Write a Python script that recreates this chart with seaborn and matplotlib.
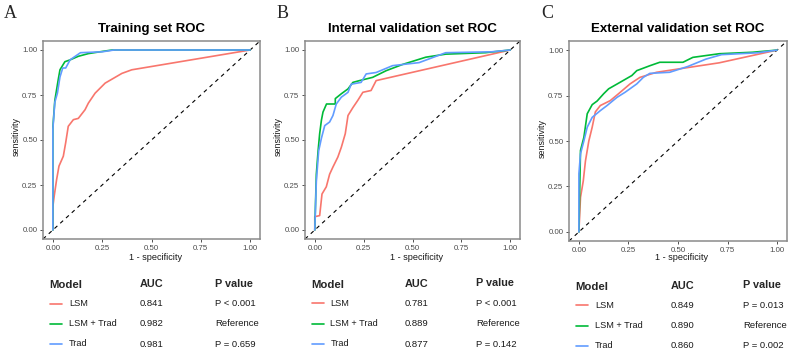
import numpy as np
import pandas as pd
import matplotlib
matplotlib.use("Agg")
import matplotlib.pyplot as plt
from matplotlib.lines import Line2D
from matplotlib.ticker import FormatStrFormatter
import seaborn as sns

sns.set_theme(style="white")
plt.rcParams['font.family'] = ['Liberation Sans', 'DejaVu Sans']

models = ["LSM", "LSM + Trad", "Trad"]
colors = ["#F8766D", "#00BA38", "#619CFF"]
titles = ["Training set ROC", "Internal validation set ROC", "External validation set ROC"]
letters = ["A", "B", "C"]

# training set curves (1 - specificity, sensitivity)
train_lsm_fpr = [0, 0, 0.007, 0.019, 0.031, 0.053, 0.065, 0.078, 0.104, 0.129, 0.163, 0.18, 0.214, 0.265, 0.35, 0.40, 1.0]
train_lsm_tpr = [0, 0.13, 0.19, 0.28, 0.355, 0.41, 0.485, 0.576, 0.613, 0.62, 0.668, 0.705, 0.76, 0.816, 0.87, 0.89, 1.0]
train_comb_fpr = [0, 0, 0.01, 0.027, 0.036, 0.061, 0.087, 0.129, 0.18, 0.25, 0.30, 1.0]
train_comb_tpr = [0, 0.57, 0.72, 0.834, 0.89, 0.935, 0.945, 0.965, 0.98, 0.992, 1.0, 1.0]
train_trad_fpr = [0, 0, 0.01, 0.023, 0.036, 0.05, 0.065, 0.075, 0.087, 0.12, 0.14, 0.25, 0.31, 1.0]
train_trad_tpr = [0, 0.56, 0.71, 0.76, 0.85, 0.90, 0.90, 0.92, 0.945, 0.97, 0.985, 0.99, 1.0, 1.0]

# internal validation set
int_lsm_fpr = [0, 0, 0.025, 0.037, 0.059, 0.076, 0.093, 0.118, 0.136, 0.156, 0.17, 0.195, 0.22, 0.246, 0.288, 0.314, 1.0]
int_lsm_tpr = [0, 0.074, 0.08, 0.2, 0.24, 0.31, 0.35, 0.405, 0.46, 0.535, 0.636, 0.68, 0.72, 0.765, 0.775, 0.83, 1.0]
int_comb_fpr = [0, 0.008, 0.017, 0.025, 0.034, 0.042, 0.06, 0.105, 0.105, 0.136, 0.17, 0.195, 0.229, 0.296, 0.365, 0.45, 0.568, 0.67, 0.873, 1.0]
int_comb_tpr = [0, 0.31, 0.44, 0.535, 0.61, 0.655, 0.70, 0.70, 0.73, 0.757, 0.784, 0.82, 0.83, 0.848, 0.885, 0.92, 0.96, 0.977, 0.985, 1.0]
int_trad_fpr = [0, 0.008, 0.02, 0.034, 0.051, 0.076, 0.093, 0.11, 0.136, 0.17, 0.186, 0.237, 0.263, 0.314, 0.398, 0.534, 0.67, 0.905, 1.0]
int_trad_tpr = [0, 0.27, 0.44, 0.51, 0.58, 0.60, 0.636, 0.70, 0.738, 0.765, 0.81, 0.82, 0.867, 0.875, 0.913, 0.93, 0.985, 0.99, 1.0]

# external validation set
ext_lsm_fpr = [0, 0.008, 0.022, 0.033, 0.05, 0.067, 0.083, 0.108, 0.158, 0.2, 0.258, 0.308, 0.392, 0.708, 1.0]
ext_lsm_tpr = [0, 0.19, 0.28, 0.39, 0.50, 0.576, 0.66, 0.695, 0.722, 0.76, 0.814, 0.85, 0.878, 0.93, 1.0]
ext_comb_fpr = [0, 0.008, 0.025, 0.042, 0.067, 0.092, 0.125, 0.15, 0.208, 0.267, 0.292, 0.358, 0.408, 0.525, 0.575, 0.708, 0.875, 1.0]
ext_comb_tpr = [0, 0.448, 0.52, 0.65, 0.70, 0.72, 0.76, 0.787, 0.823, 0.86, 0.887, 0.914, 0.933, 0.933, 0.96, 0.98, 0.988, 1.0]
ext_trad_fpr = [0, 0, 0.008, 0.025, 0.042, 0.067, 0.108, 0.142, 0.192, 0.233, 0.292, 0.325, 0.358, 0.458, 0.55, 0.64, 0.72, 0.9, 1.0]
ext_trad_tpr = [0, 0.32, 0.43, 0.50, 0.576, 0.63, 0.667, 0.695, 0.74, 0.768, 0.814, 0.85, 0.872, 0.878, 0.91, 0.95, 0.975, 0.985, 1.0]

auc_train = ["0.841", "0.982", "0.981"]
auc_int = ["0.781", "0.889", "0.877"]
auc_ext = ["0.849", "0.890", "0.860"]
p_train = ["P < 0.001", "Reference", "P = 0.659"]
p_int = ["P < 0.001", "Reference", "P = 0.142"]
p_ext = ["P = 0.013", "Reference", "P = 0.002"]

curves = [
    [(train_lsm_fpr, train_lsm_tpr), (train_comb_fpr, train_comb_tpr), (train_trad_fpr, train_trad_tpr)],
    [(int_lsm_fpr, int_lsm_tpr), (int_comb_fpr, int_comb_tpr), (int_trad_fpr, int_trad_tpr)],
    [(ext_lsm_fpr, ext_lsm_tpr), (ext_comb_fpr, ext_comb_tpr), (ext_trad_fpr, ext_trad_tpr)],
]
aucs = [auc_train, auc_int, auc_ext]
pvals = [p_train, p_int, p_ext]

W, H = 790, 352
fig = plt.figure(figsize=(W / 100, H / 100), dpi=100)


def fx(px):
    return px / W


def fy(py):
    return 1 - py / H


# axes boxes in pixels: left, top, right, bottom
boxes = [(43, 41, 260, 239), (305, 41, 520, 239), (569, 41, 787, 241)]
letter_x = [4, 277, 541]
# table layout per panel
tab = [
    dict(model=49, line=(50, 62), label=69, auc=140, p=215, head=(285, 284, 284), rows=(303.5, 323.5, 344)),
    dict(model=311, line=(312, 324), label=330.5, auc=405, p=476, head=(285, 284, 283), rows=(303, 323.5, 344)),
    dict(model=575, line=(576, 588), label=595, auc=671, p=743, head=(287, 286, 285), rows=(305, 325.5, 345.5)),
]

for i in range(3):
    l, t, r, b = boxes[i]
    ax = fig.add_axes([fx(l), fy(b), (r - l) / W, (b - t) / H])

    frames = []
    for m, (fpr, tpr) in zip(models, curves[i]):
        frames.append(pd.DataFrame({"fpr": fpr, "tpr": tpr, "Model": m}))
    df = pd.concat(frames, ignore_index=True)

    ax.axline((0, 0), (1, 1), color="black", lw=0.8, ls=(0, (3.5, 3.5)))
    sns.lineplot(data=df, x="fpr", y="tpr", hue="Model", hue_order=models,
                 palette=colors, sort=False, estimator=None, lw=1.2,
                 legend=False, ax=ax)

    ax.set_xlim(-0.05, 1.05)
    ax.set_ylim(-0.05, 1.05)
    ticks = [0, 0.25, 0.5, 0.75, 1.0]
    ax.set_xticks(ticks)
    ax.set_yticks(ticks)
    ax.xaxis.set_major_formatter(FormatStrFormatter('%.2f'))
    ax.yaxis.set_major_formatter(FormatStrFormatter('%.2f'))
    ax.tick_params(bottom=True, left=True, length=2.5, width=0.6, color="#333333",
                   labelsize=5.7, labelcolor="#4D4D4D", pad=1.5)
    ax.set_xlabel("")
    ax.set_ylabel("")
    for s in ax.spines.values():
        s.set_color("#8A8A8A")
        s.set_linewidth(1.1)

    cx = (l + r) / 2
    fig.text(fx(cx), fy(29), titles[i], fontsize=9.5, fontweight="bold",
             ha="center", va="center", color="black")
    fig.text(fx(letter_x[i]), fy(13), letters[i], fontsize=13,
             family=["Liberation Serif", "DejaVu Serif"], ha="left", va="center")
    fig.text(fx(cx + 4), fy(258), "1 - specificity", fontsize=6.6,
             ha="center", va="center", color="#1a1a1a")
    fig.text(fx(l - 26.5), fy((t + b) / 2 - 3), "sensitivity", fontsize=6.4,
             rotation=90, ha="center", va="center", color="#1a1a1a")

    tb = tab[i]
    fig.text(fx(tb["model"]), fy(tb["head"][0]), "Model", fontsize=8.2,
             fontweight="bold", ha="left", va="center")
    fig.text(fx(tb["auc"]), fy(tb["head"][1]), "AUC", fontsize=7.8,
             fontweight="bold", ha="left", va="center")
    fig.text(fx(tb["p"]), fy(tb["head"][2]), "P value", fontsize=7.8,
             fontweight="bold", ha="left", va="center")
    for k in range(3):
        y = tb["rows"][k]
        fig.add_artist(Line2D([fx(tb["line"][0]), fx(tb["line"][1])], [fy(y), fy(y)],
                              transform=fig.transFigure, color=colors[k], lw=1.2))
        fig.text(fx(tb["label"]), fy(y), models[k], fontsize=6.6,
                 ha="left", va="center", color="#1a1a1a")
        fig.text(fx(tb["auc"]), fy(y + 0.5), aucs[i][k], fontsize=6.8,
                 ha="left", va="center", color="#1a1a1a")
        fig.text(fx(tb["p"]), fy(y + 0.5), pvals[i][k], fontsize=6.8,
                 ha="left", va="center", color="#1a1a1a")

fig.savefig("out.png", dpi=100)
